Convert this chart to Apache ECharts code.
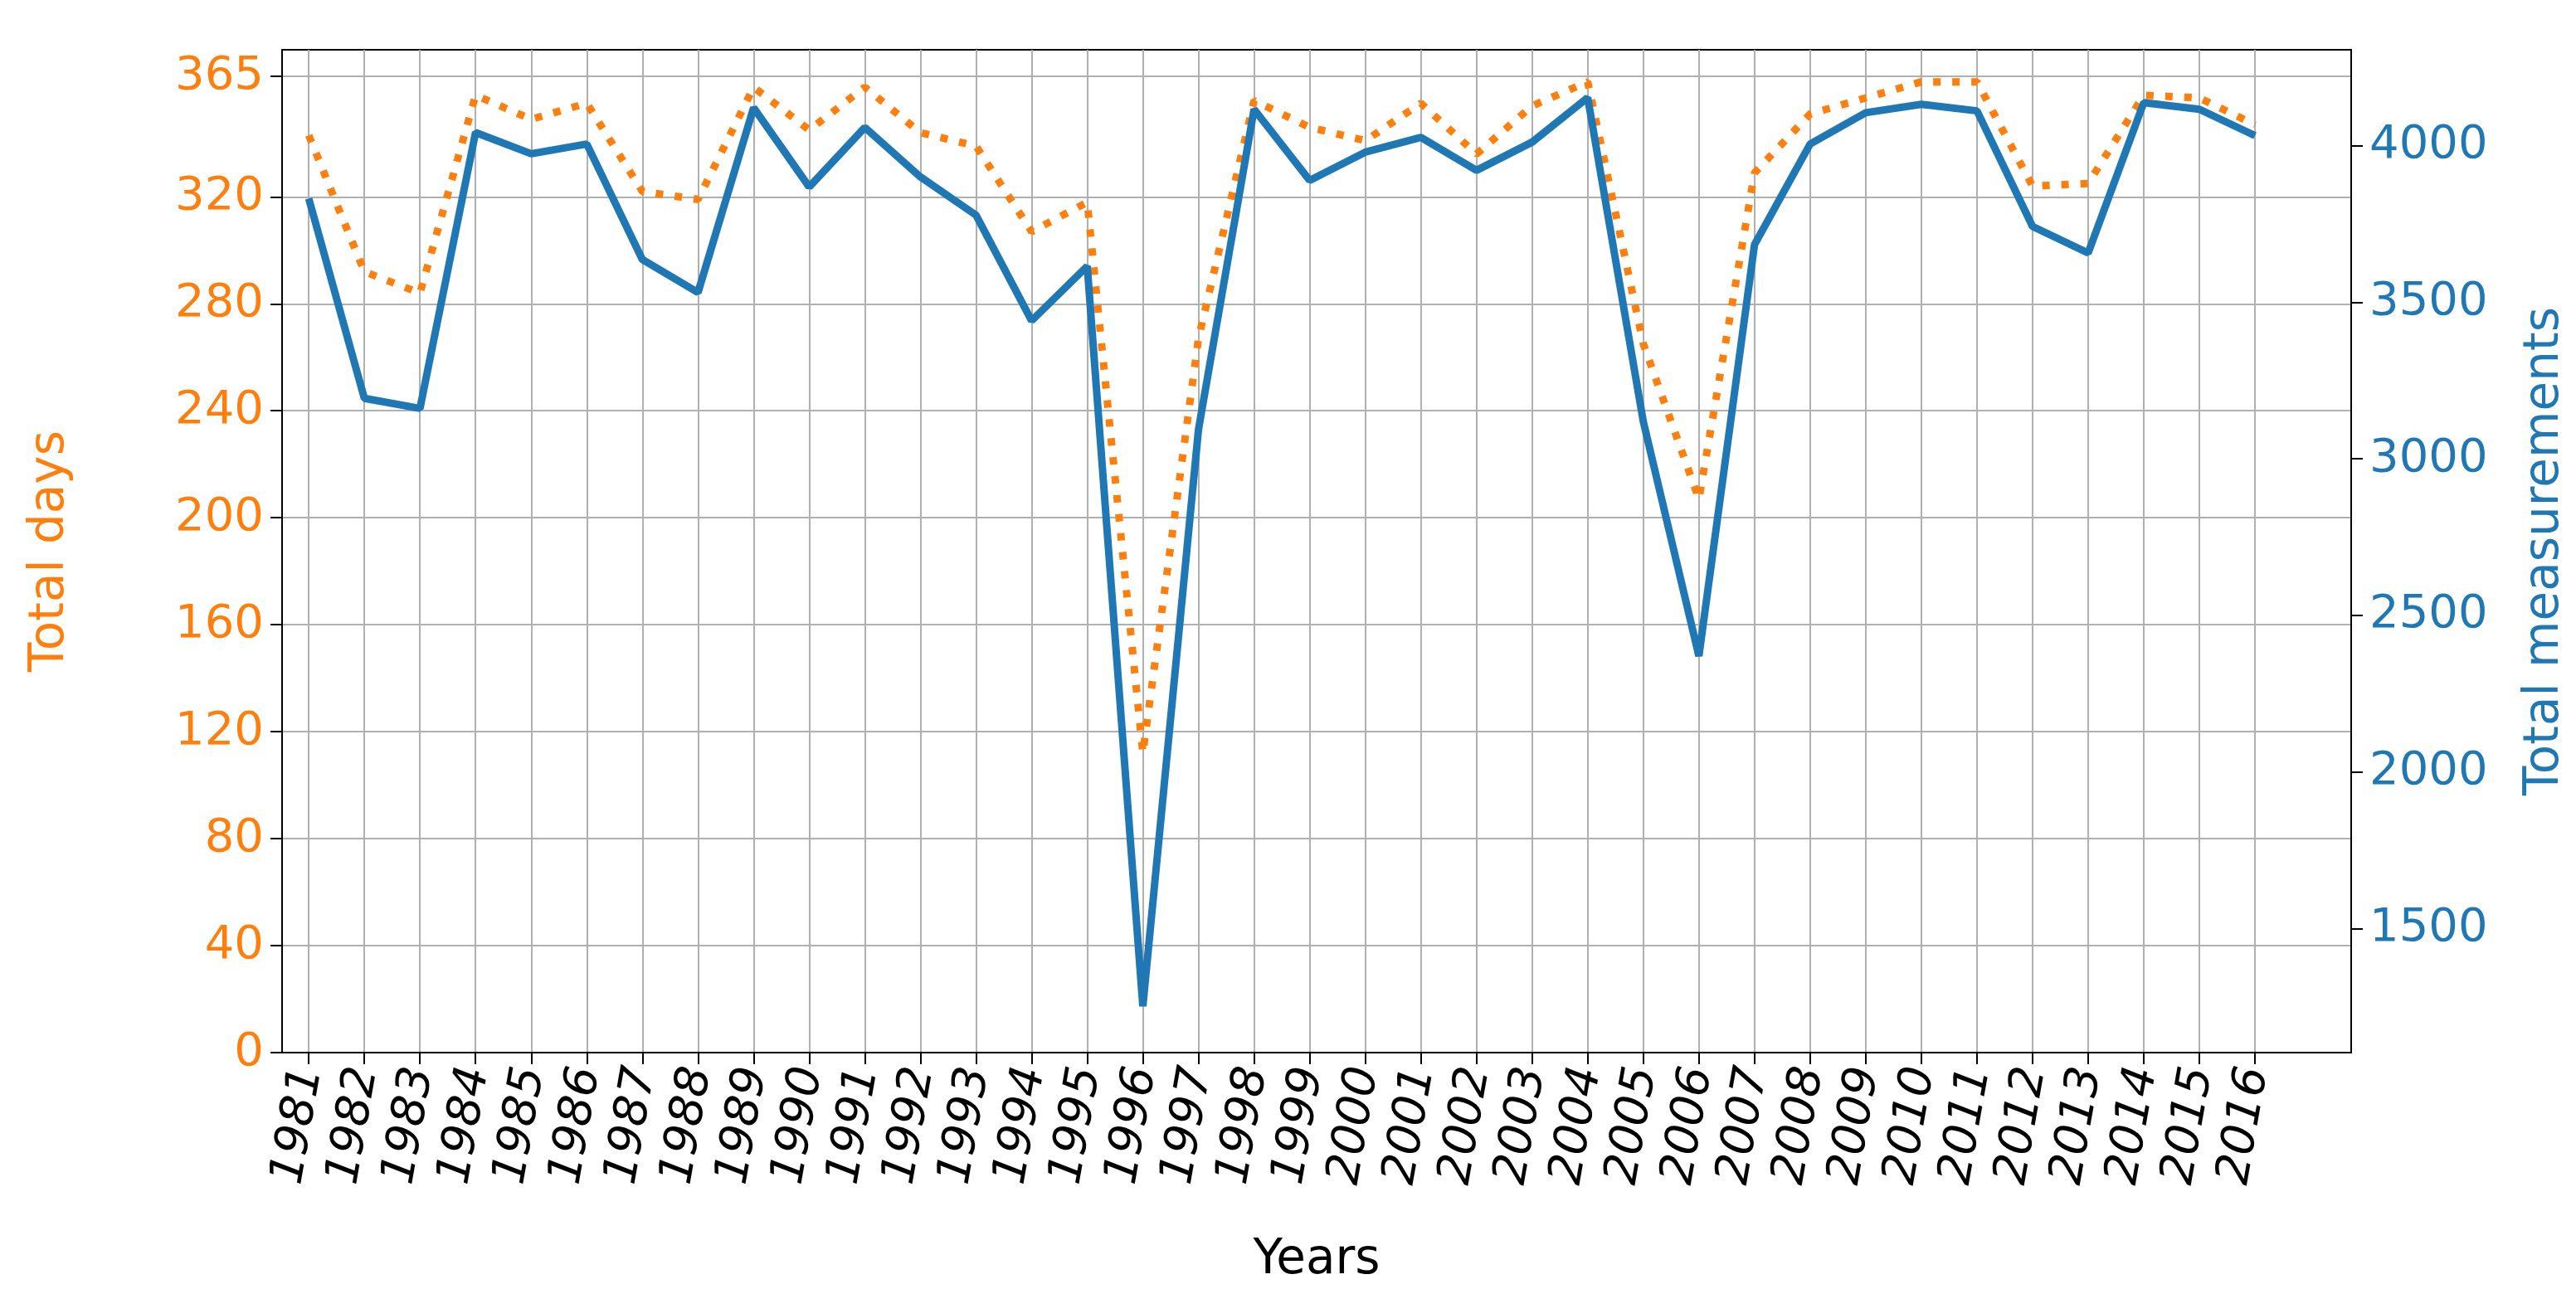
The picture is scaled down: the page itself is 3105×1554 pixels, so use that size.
<html>
<head>
<meta charset="UTF-8">
<script src="https://cdn.jsdelivr.net/npm/echarts@6/dist/echarts.min.js"></script>
<style>html,body{margin:0;background:#fff}#main{width:3105px;height:1554px}</style>
</head>
<body>
<div id="main"></div>
<script>
var years = [];
for (var y = 1981; y <= 2016; y++) years.push(y);
var totalDays = [343,292,284,358,349,355,322,319,361,345,361,344,339,307,318,112,267,356,346,341,355,336,354,363,265,207,329,351,357,363,363,324,325,358,357,347];
var totalMeas = [3831,3193,3161,4042,3974,4005,3636,3531,4121,3868,4058,3900,3778,3441,3615,1252,3093,4116,3889,3979,4026,3921,4011,4153,3119,2370,3684,4005,4105,4132,4111,3742,3657,4137,4116,4032];
var dayTicks = [0,40,80,120,160,200,240,280,320,365];
var measTicks = [1500,2000,2500,3000,3500,4000];

var font = 'DejaVu Sans';
function plain(v) { return String(v); }
var chart = echarts.init(document.getElementById('main'));
chart.setOption({
  animation: false,
  grid: {left: 340, right: 269, top: 60, bottom: 280, show: true, borderColor: '#000', borderWidth: 2, backgroundColor: 'transparent'},
  xAxis: {
    type: 'value', min: 1980.52, max: 2017.73,
    name: 'Years', nameLocation: 'middle', nameGap: 222,
    nameTextStyle: {fontFamily: font, fontSize: 58, color: '#000'},
    axisLine: {show: true, lineStyle: {color: '#000', width: 2}},
    axisTick: {show: true, length: 14, lineStyle: {color: '#000', width: 2}, customValues: years},
    axisLabel: {customValues: years, formatter: plain, rotate: 80, fontStyle: 'italic', fontFamily: font, fontSize: 56, color: '#000', margin: 18},
    splitLine: {show: true, lineStyle: {color: '#b0b0b0', width: 2}}
  },
  yAxis: [{
    type: 'value', min: 0, max: 375, position: 'left',
    name: 'Total days', nameLocation: 'middle', nameGap: 250,
    nameTextStyle: {fontFamily: font, fontSize: 58, color: '#ff7f0e'},
    axisLine: {show: true, lineStyle: {color: '#000', width: 2}},
    axisTick: {show: true, length: 14, lineStyle: {color: '#000', width: 2}, customValues: dayTicks},
    axisLabel: {customValues: dayTicks, formatter: plain, fontFamily: font, fontSize: 56, color: '#ff7f0e', margin: 22},
    splitLine: {show: true, lineStyle: {color: '#b0b0b0', width: 2}}
  }, {
    type: 'value', min: 1104, max: 4306, position: 'right',
    name: 'Total measurements', nameLocation: 'middle', nameGap: 205,
    nameTextStyle: {fontFamily: font, fontSize: 58, color: '#1f77b4'},
    axisLine: {show: true, lineStyle: {color: '#000', width: 2}},
    axisTick: {show: true, length: 14, lineStyle: {color: '#000', width: 2}, customValues: measTicks},
    axisLabel: {customValues: measTicks, formatter: plain, fontFamily: font, fontSize: 56, color: '#1f77b4', margin: 22},
    splitLine: {show: false}
  }],
  series: [{
    type: 'line', yAxisIndex: 0, showSymbol: false,
    data: years.map(function (y, i) { return [y, totalDays[i]]; }),
    lineStyle: {color: '#ff7f0e', width: 9, type: [9, 14], cap: 'butt'}
  }, {
    type: 'line', yAxisIndex: 1, showSymbol: false,
    data: years.map(function (y, i) { return [y, totalMeas[i]]; }),
    lineStyle: {color: '#1f77b4', width: 9}
  }]
});
</script>
</body>
</html>
